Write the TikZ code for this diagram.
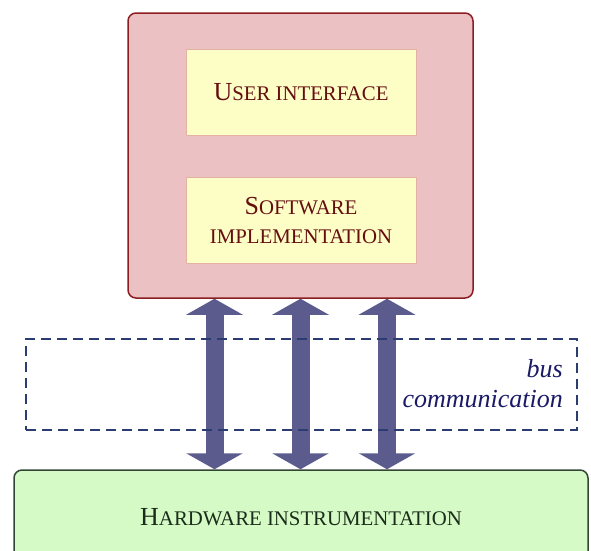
\documentclass[tikz,border=0pt]{standalone}
\usepackage{fontspec}
\setmainfont{Liberation Serif}
\usetikzlibrary{arrows.meta}
\definecolor{sysfill}{RGB}{236,193,196}
\definecolor{sysline}{RGB}{140,30,34}
\definecolor{modfill}{RGB}{253,253,198}
\definecolor{modline}{RGB}{228,178,164}
\definecolor{redtext}{RGB}{100,14,16}
\definecolor{busblue}{RGB}{91,91,142}
\definecolor{dashcol}{RGB}{42,60,112}
\definecolor{navytext}{RGB}{26,26,102}
\definecolor{hwfill}{RGB}{213,250,198}
\definecolor{hwline}{RGB}{52,70,52}
\definecolor{greentext}{RGB}{26,44,26}
% fake small capitals: first letter full size, the rest smaller capitals
\newcommand\bigsz{\fontsize{26}{30}\selectfont}
\newcommand\smsz{\fontsize{20.8}{30}\selectfont}
\newcommand\fakesc[2]{{\bigsz #1}{\smsz #2}}
\tikzset{
  system/.style={draw=sysline, line width=1.5pt, fill=sysfill, rounded corners=8pt},
  module/.style={draw=modline, line width=0.8pt, fill=modfill, text=redtext,
    minimum width=230pt, minimum height=86pt, inner sep=0pt, align=center,
    font=\bigsz},
  hardware/.style={draw=hwline, line width=1.5pt, fill=hwfill, rounded corners=8pt,
    text=greentext, minimum width=574pt, minimum height=95pt, inner sep=0pt},
  busarrow/.style={line width=18pt, draw=busblue,
    {Triangle[width=56pt,length=16pt]}-{Triangle[width=56pt,length=16pt]}},
  busbox/.style={draw=dashcol, line width=1.2pt, dash pattern=on 10pt off 6pt,
    minimum width=551pt, minimum height=91pt, inner sep=0pt},
  buslabel/.style={text=navytext, font=\bigsz\itshape, align=right, inner sep=0pt}
}
\begin{document}
\begin{tikzpicture}[x=1pt, y=-1pt]
\useasboundingbox (0,0) rectangle (591,550);
% software side
\node[system, minimum width=345pt, minimum height=285pt, inner sep=0pt] (sys) at (300.5,155.5) {};
\node[module] (ui) at (301,92) {\fakesc{U}{SER INTERFACE}};
\node[module] (sw) at (301,220) {\fakesc{S}{OFTWARE}\\[-1pt]{\smsz IMPLEMENTATION}};
% hardware side
\node[hardware] (hw) at (301,517.5) {\fakesc{H}{ARDWARE INSTRUMENTATION}};
% bus links
\coordinate (l1) at (214.5,0);
\coordinate (l2) at (300.5,0);
\coordinate (l3) at (387,0);
\draw[busarrow] (sys.south -| l1) -- (hw.north -| l1);
\draw[busarrow] (sys.south -| l2) -- (hw.north -| l2);
\draw[busarrow] (sys.south -| l3) -- (hw.north -| l3);
% communication bus
\node[busbox] (bus) at (301.5,384.5) {};
\node[buslabel, anchor=east] (buslbl) at (563,384) {bus\\communication};
\end{tikzpicture}
\end{document}
